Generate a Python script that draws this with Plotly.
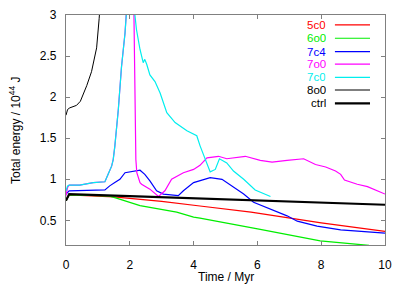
import plotly.graph_objects as go

# ---- data (Time / Myr, Total energy / 1e44 J) ----
x_5c0 = [0, 0.1, 1.5, 3.0, 4.2, 5.8, 8.0, 10.0]
y_5c0 = [0.74, 0.81, 0.785, 0.73, 0.675, 0.60, 0.47, 0.365]

x_6o0 = [0, 0.1, 1.0, 1.37, 1.58, 2.32, 3.47, 4.0, 4.2, 5.78, 6.09, 7.97, 9.5]
y_6o0 = [0.74, 0.81, 0.80, 0.795, 0.77, 0.68, 0.60, 0.54, 0.527, 0.42, 0.39, 0.25, 0.195]

x_7c4 = [0, 0.1, 1.22, 1.37, 1.53, 1.69, 1.85, 2.06, 2.32, 2.47, 2.63, 2.84, 3.05, 3.52,
         3.68, 4.0, 4.2, 4.52, 4.89, 5.25, 5.57, 5.88, 6.41, 6.93, 7.25, 7.87, 8.61, 10.0]
y_7c4 = [0.82, 0.86, 0.87, 0.92, 0.96, 1.0, 1.08, 1.09, 1.11, 1.06, 0.98, 0.86, 0.82, 0.80,
         0.86, 0.96, 0.98, 1.02, 1.0, 0.90, 0.82, 0.72, 0.64, 0.555, 0.49, 0.43, 0.385, 0.345]

x_7o0 = [0, 0.05, 0.1, 0.43, 0.85, 1.22, 1.32, 1.43, 1.48, 1.53, 1.64, 1.74, 1.85, 1.95,
         2.05, 2.13, 2.16, 2.19, 2.22, 2.32, 2.37, 2.63, 2.9, 3.1, 3.31, 3.68, 4.0, 4.2,
         4.42, 4.78, 5.04, 5.62, 6.09, 6.46, 6.93, 7.45, 7.82, 8.14, 8.45, 8.61, 8.73,
         9.13, 9.45, 10.0]
y_7o0 = [0.80, 0.90, 0.93, 0.93, 0.96, 0.97, 1.06, 1.16, 1.24, 1.40, 1.85, 2.37, 2.78, 3.5,
         4.0, 3.0, 1.6, 1.24, 1.08, 0.96, 0.94, 0.88, 0.79, 0.86, 1.0, 1.08, 1.12, 1.17,
         1.26, 1.28, 1.25, 1.28, 1.23, 1.21, 1.23, 1.25, 1.18, 1.15, 1.10, 1.06, 0.99,
         0.94, 0.91, 0.82]

x_7c0 = [0, 0.05, 0.1, 0.43, 0.85, 1.22, 1.32, 1.43, 1.48, 1.53, 1.64, 1.74, 1.85, 1.9,
         2.0, 2.12, 2.16, 2.21, 2.32, 2.42, 2.47, 2.53, 2.63, 2.79, 2.95, 3.16, 3.42,
         3.79, 4.1, 4.2, 4.36, 4.52, 4.68, 4.81, 5.04, 5.25, 5.57, 5.93, 6.41]
y_7c0 = [0.86, 0.92, 0.93, 0.93, 0.96, 0.97, 1.06, 1.16, 1.24, 1.40, 1.85, 2.37, 2.78, 3.0,
         3.6, 3.4, 3.0, 2.82, 2.58, 2.42, 2.46, 2.40, 2.27, 2.19, 2.05, 1.81, 1.69,
         1.59, 1.53, 1.41, 1.24, 1.09, 1.12, 1.25, 1.20, 1.10, 1.0, 0.87, 0.79]

x_8o0 = [0, 0.05, 0.12, 0.33, 0.45, 0.53, 0.65, 0.8, 0.9, 0.96, 1.04, 1.1]
y_8o0 = [1.78, 1.85, 1.87, 1.90, 1.95, 2.02, 2.14, 2.31, 2.47, 2.6, 2.96, 3.3]

x_ctrl = [0, 0.1, 2.0, 4.0, 6.0, 8.0, 10.0]
y_ctrl = [0.74, 0.82, 0.795, 0.77, 0.742, 0.716, 0.69]

x_ticks = [0, 2, 4, 6, 8, 10]
y_ticks = [0.5, 1, 1.5, 2, 2.5, 3]

x_title = "Time / Myr"
y_title = "Total energy / 10<sup>44</sup> J"

series = [
    ("5c0", x_5c0, y_5c0, "#ff0000", 1.2),
    ("6o0", x_6o0, y_6o0, "#00ee00", 1.2),
    ("7c4", x_7c4, y_7c4, "#0000ff", 1.2),
    ("7o0", x_7o0, y_7o0, "#ff00ff", 1.2),
    ("7c0", x_7c0, y_7c0, "#00eeee", 1.2),
    ("8o0", x_8o0, y_8o0, "#000000", 1.0),
    ("ctrl", x_ctrl, y_ctrl, "#000000", 2.2),
]

fig = go.Figure()
for name, xs, ys, col, w in series:
    fig.add_trace(go.Scatter(x=xs, y=ys, mode="lines", name=name,
                             line=dict(color=col, width=w), showlegend=False))

# gnuplot-style legend: right-aligned text, sample line on the right
row_y = [0.957, 0.899, 0.841, 0.786, 0.729, 0.674, 0.616]
for (name, xs, ys, col, w), ry in zip(series, row_y):
    fig.add_annotation(x=0.818, y=ry, xref="paper", yref="paper", text=name,
                       showarrow=False, xanchor="right", yanchor="middle",
                       height=12, borderpad=0, valign="middle",
                       font=dict(color=col if name not in ("8o0", "ctrl") else "#000000", size=11.5))
    fig.add_shape(type="line", xref="paper", yref="paper", x0=0.843, x1=0.953,
                  y0=ry, y1=ry,
                  line=dict(color=col if name != "8o0" else "#555555",
                            width=w if name != "8o0" else 1.3))

# axis titles
fig.add_annotation(x=0.5, y=-0.139, xref="paper", yref="paper", text=x_title,
                   showarrow=False, xanchor="center", yanchor="middle", font=dict(size=12))
fig.add_annotation(x=-0.16, y=0.5, xref="paper", yref="paper", text=y_title,
                   showarrow=False, xanchor="center", yanchor="middle", textangle=-90,
                   font=dict(size=12))

axis_common = dict(showline=True, linecolor="#808080", linewidth=1.3, mirror="ticks",
                   ticks="inside", ticklen=4, tickcolor="#808080", showgrid=False,
                   zeroline=False, automargin=False, tickfont=dict(size=12, color="#000000"))

fig.update_layout(
    width=407, height=285,
    margin=dict(l=66, r=22, t=15, b=40),
    plot_bgcolor="white", paper_bgcolor="white",
    font=dict(family="Liberation Sans, Arial, sans-serif", size=12, color="#000000"),
    xaxis=dict(range=[0, 10], tickvals=x_ticks, ticktext=[str(v) for v in x_ticks],
               ticklabelstandoff=8, **axis_common),
    yaxis=dict(range=[0.2, 3], tickvals=y_ticks, ticktext=[f"{v:g}" for v in y_ticks],
               ticklabelstandoff=6, **axis_common),
)

fig.write_html("out.html",
               config={"displayModeBar": False},
               post_script="document.body.style.margin='0';document.body.style.padding='0';"
                           "document.body.style.overflow='hidden';"
                           "document.documentElement.style.overflow='hidden';")
